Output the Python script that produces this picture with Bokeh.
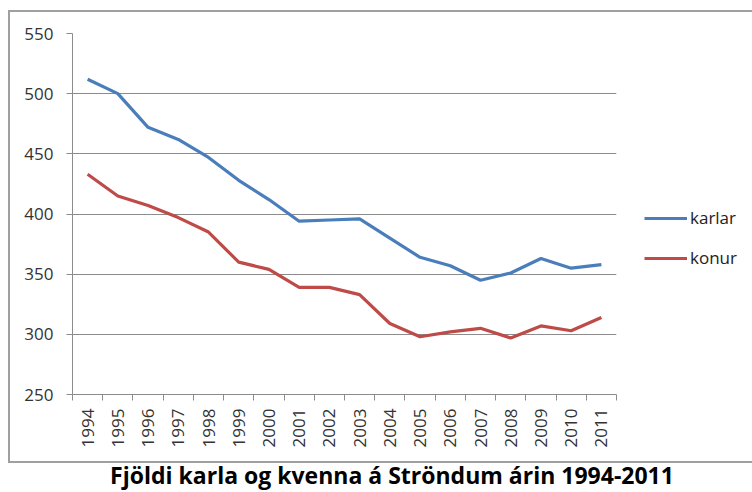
import math
from bokeh.plotting import figure
from bokeh.models import FixedTicker, Legend, LegendItem, Div, Range1d
from bokeh.layouts import column
from bokeh.embed import file_html
from bokeh.resources import INLINE

years = [1994, 1995, 1996, 1997, 1998, 1999, 2000, 2001, 2002, 2003,
         2004, 2005, 2006, 2007, 2008, 2009, 2010, 2011]
karlar = [512, 500, 472, 462, 447, 428, 412, 394, 395, 396,
          380, 364, 357, 345, 351, 363, 355, 358]
konur = [433, 415, 407, 397, 385, 360, 354, 339, 339, 333,
         309, 298, 302, 305, 297, 307, 303, 314]
y_ticks = [250, 300, 350, 400, 450, 500, 550]
title_text = "Fjöldi karla og kvenna á Ströndum árin 1994-2011"

FONT = "Open Sans"
GRID = "#8c8c8c"

p = figure(width=742, height=449, output_backend="svg", toolbar_location=None,
           x_range=Range1d(years[0] - 0.5, years[-1] + 0.5),
           y_range=Range1d(250, 550),
           frame_width=542, frame_height=357,
           min_border_left=62, min_border_top=21, min_border_bottom=71,
           min_border_right=138)
p.margin = (10, 0, 0, 8)
p.styles = {"border-top": "2px solid #a0a0a0", "border-left": "2px solid #a0a0a0",
            "border-bottom": "2px solid #a0a0a0"}
p.outline_line_color = None
p.background_fill_color = "white"
p.border_fill_color = "white"

# x axis: labels at category centres, ticks between categories
bounds = [y - 0.5 for y in years] + [years[-1] + 0.5]
p.xaxis.ticker = FixedTicker(ticks=years, minor_ticks=bounds)
p.xaxis.major_label_overrides = {y: str(y) for y in years}
p.xaxis.major_tick_out = 0
p.xaxis.major_tick_in = 0
p.xaxis.minor_tick_out = 6
p.xaxis.minor_tick_in = 0
p.xaxis.minor_tick_line_color = GRID
p.xaxis.major_label_orientation = math.pi / 2
p.xaxis.major_label_standoff = 8

p.yaxis.ticker = FixedTicker(ticks=y_ticks)
p.yaxis.major_tick_out = 6
p.yaxis.major_tick_in = 0
p.yaxis.minor_tick_line_color = None
p.yaxis.major_label_standoff = 13

for ax in (p.xaxis, p.yaxis):
    ax.axis_line_color = GRID
    ax.major_tick_line_color = GRID
    ax.major_label_text_font = FONT
    ax.major_label_text_font_size = "17px"
    ax.major_label_text_color = "#333333"

p.xgrid.grid_line_color = None
p.ygrid.grid_line_color = GRID
p.ygrid.grid_line_width = 1

r1 = p.line(years, karlar, line_color="#4a7ebb", line_width=3.2)
r2 = p.line(years, konur, line_color="#be4b48", line_width=3.2)

legend = Legend(items=[LegendItem(label="karlar", renderers=[r1]),
                       LegendItem(label="konur", renderers=[r2])],
                location=(28, 125), orientation="vertical",
                label_text_font=FONT, label_text_font_size="17px",
                label_text_color="#222222", glyph_width=43, glyph_height=20,
                label_standoff=3, spacing=17, padding=4, margin=0,
                border_line_color=None, background_fill_alpha=0)
p.add_layout(legend, "right")

title = Div(text=title_text, width=744, height=24,
            styles={"text-align": "center", "font-family": FONT,
                    "font-weight": "bold", "font-size": "23px",
                    "color": "#000000", "width": "744px",
                    "padding-left": "24px", "line-height": "24px"})
title.margin = (0, 0, 0, 8)

layout = column(p, title, spacing=0)
open("out.html", "w").write(file_html(layout, INLINE))
